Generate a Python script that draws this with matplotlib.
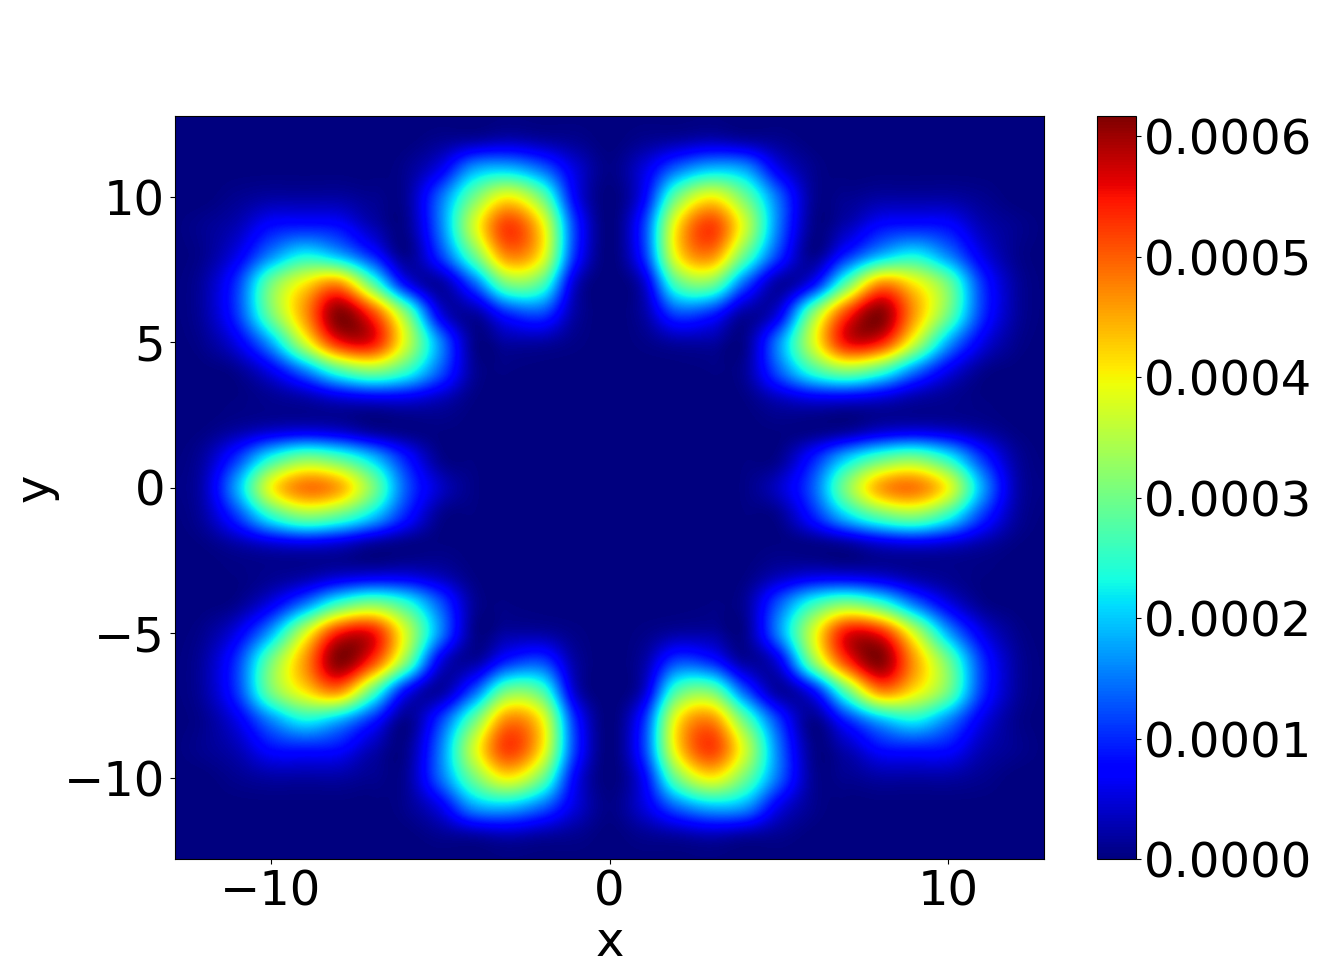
import numpy as np
import matplotlib
matplotlib.use('Agg')
import matplotlib.pyplot as plt

# density, units of 1e-5, upper right quadrant
# the picture is mirror symmetric in x and in y
xnodes = [0, 1, 2, 3, 4, 5, 6, 7, 8, 9, 10, 11, 12, 13]
ynodes = [0, 1, 2, 3, 4, 5, 6, 7, 8, 9, 10, 11, 12, 13]
row_y0 = [0, 0, 0, 0, 0.5, 4, 13, 31, 45, 48, 39, 18, 3, 0.3]
row_y1 = [0, 0, 0, 0, 0.2, 1, 9, 20, 28, 31, 24, 11, 2, 0]
row_y2 = [0, 0, 0, 0, 0, 0.3, 0.5, 1.5, 4, 5, 4, 2, 0.3, 0]
row_y3 = [0, 0, 0, 0, 0.3, 3, 5, 5, 4, 2, 1, 0.3, 0, 0]
row_y4 = [0, 0, 0, 0.3, 1.5, 13, 25, 31, 26, 15, 6, 1, 0, 0]
row_y5 = [0, 0.5, 2, 2, 1, 16, 37, 55, 54, 37, 18, 6, 1, 0]
row_y6 = [0, 2, 12, 10, 2, 6, 31, 52, 61, 46, 30, 11, 2, 0]
row_y7 = [0, 4, 27, 30, 13, 2, 8, 29, 47, 41, 30, 11, 2, 0]
row_y8 = [0, 10, 40, 47, 29, 11, 1, 10, 19, 23, 16, 6, 1, 0]
row_y9 = [0, 11, 41, 52, 37, 15, 1, 3, 8, 9, 8, 3, 1, 0]
row_y10 = [0, 7, 30, 40, 30, 14, 1.5, 1, 2, 2, 2, 1, 0, 0]
row_y11 = [0.5, 5, 14, 19, 17, 6, 1, 0, 0, 0, 0, 0, 0, 0]
row_y12 = [0, 1, 2, 3, 2, 1, 0, 0, 0, 0, 0, 0, 0, 0]
row_y13 = [0, 0, 0, 0, 0, 0, 0, 0, 0, 0, 0, 0, 0, 0]
xticks = [-10, 0, 10]
yticks = [-10, -5, 0, 5, 10]
cticks = [0.0, 0.0001, 0.0002, 0.0003, 0.0004, 0.0005, 0.0006]
vmax = 0.000617

quad = np.array([row_y0, row_y1, row_y2, row_y3, row_y4, row_y5, row_y6,
                 row_y7, row_y8, row_y9, row_y10, row_y11, row_y12, row_y13]) * 1e-5
top = np.hstack([quad[:, :0:-1], quad])
z = np.vstack([top[:0:-1], top])

plt.rcParams['font.size'] = 34.6
fig = plt.figure(figsize=(13.2, 9.65), dpi=100)
ax = fig.add_axes([175 / 1320, 1 - 859 / 965, 869 / 1320, 743 / 965])
im = ax.imshow(z, origin='lower', extent=[-13.5, 13.5, -13.5, 13.5], aspect='auto',
               cmap='jet', vmin=0, vmax=vmax, interpolation='catrom',
               interpolation_stage='data')
ax.set_xlim(-12.83, 12.83)
ax.set_ylim(-12.8, 12.8)
ax.set_xticks(xticks)
ax.set_yticks(yticks)
ax.set_xlabel('x', labelpad=2)
ax.set_ylabel('y', labelpad=4)

cax = fig.add_axes([1097 / 1320, 1 - 859 / 965, 39 / 1320, 743 / 965])
cb = fig.colorbar(im, cax=cax)
cb.set_ticks(cticks)
cb.set_ticklabels(['%.4f' % t for t in cticks])
cax.tick_params(pad=2.5)

fig.savefig('out.png', dpi=100)
